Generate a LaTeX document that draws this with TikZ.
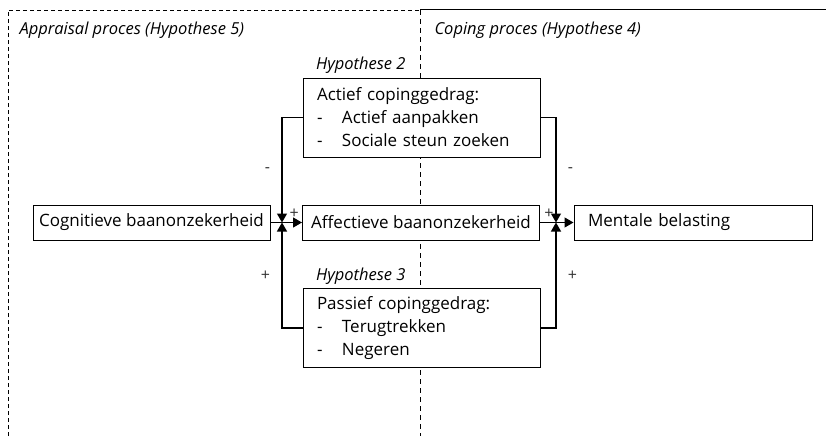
\documentclass[tikz,border=0pt]{standalone}
\usepackage{fontspec}
\setmainfont{Open Sans}
\usetikzlibrary{arrows.meta}

\begin{document}
\begin{tikzpicture}[x=1pt,y=-1pt,
    box/.style={draw,fill=white,line width=1pt,minimum width=237pt,minimum height=35pt,inner xsep=3pt,font=\fontsize{17}{23}\selectfont},
    listbox/.style={box,text width=209pt,inner xsep=14pt,align=left,minimum height=79pt},
    arr/.style={line width=1.2pt,-{Triangle[length=9pt,width=10pt]}},
    sign/.style={font=\fontsize{16}{17}\selectfont,text=black!80},
    hyp/.style={font=\fontsize{16.5}{19}\selectfont\itshape}]
  \useasboundingbox (0,0) rectangle (826,436);
  % frame of the two processes
  \draw[dash pattern=on 4pt off 3pt,line width=0.8pt] (8,436) -- (8,10) -- (420,10);
  \draw[line width=1pt] (420,10) -- (826,10);
  \draw[dash pattern=on 5pt off 4pt,line width=0.8pt] (420,10) -- (420,436);
  \node[hyp,anchor=west] (app) at (16,30) {Appraisal proces (Hypothese 5)};
  \node[hyp,anchor=west] (cop) at (431,30) {Coping proces (Hypothese 4)};

  \node[box] (cog) at (151.5,222.5) {Cognitieve baanonzekerheid};
  \node[box] (aff) at (421,222.5) {Affectieve baanonzekerheid};
  \node[box,text width=210pt,inner xsep=14pt,align=left] (men) at (693,222.5) {Mentale belasting};
  \node[listbox] (act) at (421.5,117.5) {Actief copinggedrag:\\
    \makebox[25pt][l]{-}Actief aanpakken\\
    \makebox[25pt][l]{-}Sociale steun zoeken};
  \node[listbox] (pas) at (421.5,328) {Passief copinggedrag:\\
    \makebox[25pt][l]{-}Terugtrekken\\
    \makebox[25pt][l]{-}Negeren};
  \node[hyp,anchor=south west] (hyp2) at ([xshift=10pt]act.north west) {Hypothese 2};
  \node[hyp,anchor=south west] (hyp3) at ([xshift=10pt]pas.north west) {Hypothese 3};

  \coordinate (j1) at (282,222.5);
  \coordinate (j2) at (556,222.5);

  \draw[arr] (cog) -- node[sign,above,pos=0.75,inner sep=0pt,yshift=3pt] {+} (aff);
  \draw[arr] (aff) -- node[sign,above,pos=0.27,inner sep=0pt,yshift=3pt] {+} (men);
  \draw[arr] (act.west) -| node[sign,pos=0.75,left=8pt] {-} (j1);
  \draw[arr] (pas.west) -| node[sign,pos=0.75,left=8pt] {+} (j1);
  \draw[arr] (act.east) -| node[sign,pos=0.75,right=8pt] {-} (j2);
  \draw[arr] (pas.east) -| node[sign,pos=0.75,right=8pt] {+} (j2);
\end{tikzpicture}
\end{document}
